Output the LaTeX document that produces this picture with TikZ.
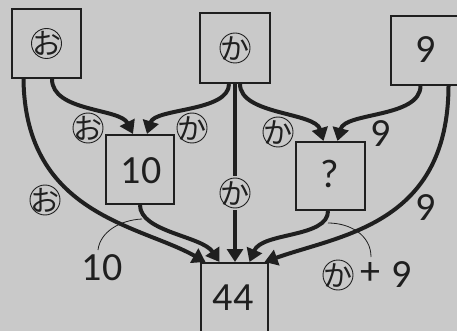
\documentclass[tikz,border=0pt]{standalone}
\usepackage{fontspec}
\setmainfont{Noto Sans CJK JP}
\newfontfamily\digitfont{Carlito}
\usetikzlibrary{arrows.meta,calc}
\definecolor{paper}{gray}{0.79}
\definecolor{ink}{gray}{0.12}
\begin{document}
\begin{tikzpicture}[x=1pt,y=-1pt,
  box/.style={draw=ink, line width=2pt, inner sep=0pt, fill=paper, text=ink,
    font=\digitfont\fontsize{40}{40}\selectfont},
  conn/.style={draw=ink, line width=4pt, -{Triangle[length=13pt,width=16pt]}},
  plainconn/.style={draw=ink, line width=4pt},
  kana/.style={circle, draw=ink, line width=0.9pt, minimum size=30pt, inner sep=-9pt,
    font=\fontsize{29}{29}\selectfont, text=ink},
  num/.style={font=\digitfont\fontsize{40}{40}\selectfont, text=ink, inner sep=0pt},
  arcline/.style={draw=ink, line width=0.8pt}]
\useasboundingbox (0,0) rectangle (457,331);
\clip (0,0) rectangle (457,331);
\fill[paper] (0,0) rectangle (457,331);

% boxes
\node[box, minimum width=69pt, minimum height=69pt] (obox) at (46.5,43.5) {};
\node[box, minimum width=70pt, minimum height=70pt] (kbox) at (235,48) {};
\node[box, minimum width=69pt, minimum height=69pt] (nbox) at (425.5,50.5) {};
\node[num] (ntext) at (426,50) {9};
\node[box, minimum width=68pt, minimum height=69pt] (tbox) at (140,169.5) {};
\node[num] (ttext) at (141,171) {10};
\node[box, minimum width=69pt, minimum height=68pt] (qbox) at (330.5,176) {};
\node[num] (qtext) at (330,174) {?};
\node[box, minimum width=67pt, minimum height=76pt] (fbox) at (234.5,301) {};
\node[num] (ftext) at (233,298) {44};

\node[kana] (obox-k) at (obox.center) {お};
\node[kana] (kbox-k) at (kbox.center) {か};

% labels
\node[kana] (ol1) at (88,128) {お};
\node[kana] (kl1) at (192,128) {か};
\node[kana] (kl2) at (278,132) {か};
\node[num] (n9a) at (381,134) {9};
\node[kana] (ol2) at (45,200) {お};
\node[kana, outer sep=2pt] (klab) at (235,193) {か};
\node[num] (n9b) at (426,208) {9};
\node[num] (n10) at (102,268) {10};
\node[kana] (kp) at (338,275) {か};
\node[num] (plus) at (370,274) {+};
\node[num] (n9c) at (402,275) {9};

% connectors into 10
\draw[conn] ([xshift=5.5pt]obox.south) .. controls (52,112) and (120,108) .. ([xshift=-7pt]tbox.north);
\draw[conn] ([xshift=-6pt]kbox.south) .. controls (229,112) and (155,108) .. ([xshift=7pt]tbox.north);
% connectors into ?
\draw[conn] ([xshift=5pt]kbox.south) .. controls (240,115) and (315,112) .. ([xshift=-7pt]qbox.north);
\draw[conn] ([xshift=-5pt]nbox.south) .. controls (420,118) and (345,112) .. ([xshift=7pt]qbox.north);
% connectors into 44
\draw[conn] ([xshift=-23pt]obox.south) .. controls (25,215) and (140,225) .. ([xshift=-29pt]fbox.north);
\draw[conn] (tbox.south) .. controls (140,232) and (202,236) .. ([xshift=-15pt]fbox.north);
\draw[plainconn] (kbox.south) -- (klab);
\draw[conn] (klab) -- (kbox.south |- fbox.north);
\draw[conn] ([xshift=-2.5pt]qbox.south) .. controls (328,238) and (262,232) .. ([xshift=15pt]fbox.north);
\draw[conn] ([xshift=23pt]nbox.south) .. controls (448,225) and (340,235) .. ([xshift=30pt]fbox.north);

% thin arcs
\coordinate (a1s) at (98,250);
\coordinate (a1e) at (142,219);
\coordinate (a2s) at (371,257);
\coordinate (a2e) at (328,223);
\draw[arcline] (a1s) .. controls (100,232) and (120,220) .. (a1e);
\draw[arcline] (a2s) .. controls (371,235) and (350,223) .. (a2e);
\end{tikzpicture}
\end{document}
